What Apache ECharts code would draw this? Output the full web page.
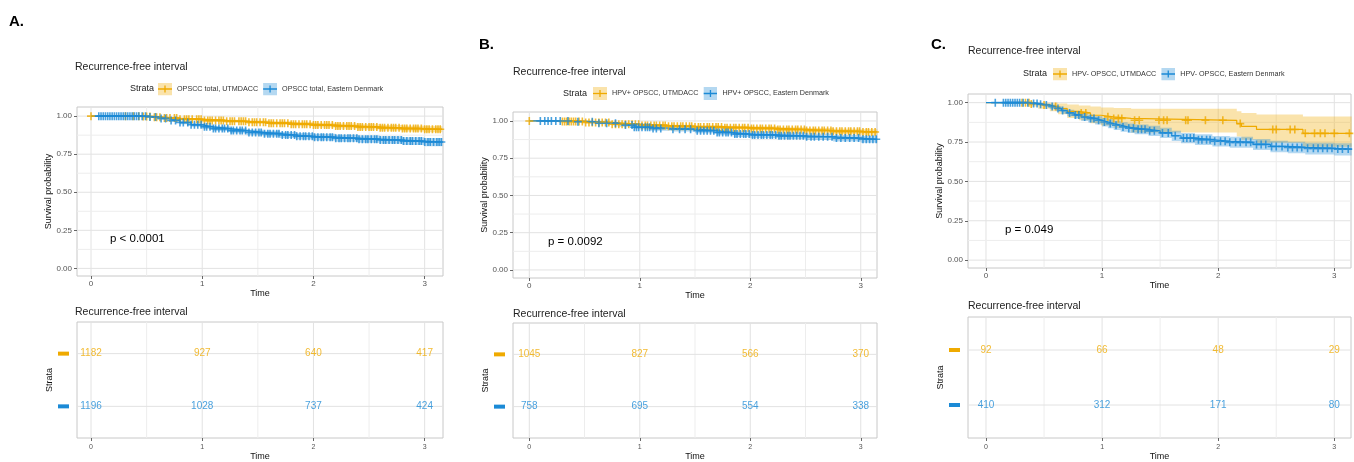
<!DOCTYPE html>
<html>
<head>
<meta charset="utf-8">
<script src="https://cdn.jsdelivr.net/npm/echarts@6/dist/echarts.min.js"></script>
<style>
  html, body { margin: 0; padding: 0; background: #fff; }
  #chart { width: 1354px; height: 462px; }
</style>
</head>
<body>
<div id="chart"></div>
<script>
var FONT = '"Liberation Sans", Arial, sans-serif';
var YEL = '#EFAA00', BLU = '#1B8AD6';
var YEL_FILL = 'rgba(239,170,0,0.33)', BLU_FILL = 'rgba(27,138,214,0.33)';

var xTicks = [0, 1, 2, 3];
var yTicks = [0, 0.25, 0.5, 0.75, 1];
var riskTimes = [0, 1, 2, 3];

// ---- A: OPSCC total
var aNames = ['OPSCC total, UTMDACC', 'OPSCC total, Eastern Denmark'];
var aYelTime = [0, 0.45, 0.55, 0.65, 0.8, 1.0, 1.2, 1.4, 1.6, 1.8, 2.0, 2.2, 2.4, 2.6, 2.8, 3.0, 3.16];
var aYelSurv = [1.0, 0.998, 0.993, 0.987, 0.980, 0.972, 0.966, 0.960, 0.954, 0.947, 0.941, 0.935, 0.929, 0.923, 0.918, 0.914, 0.912];
var aYelLo = [1.0, 0.995, 0.988, 0.980, 0.972, 0.962, 0.955, 0.948, 0.941, 0.933, 0.926, 0.919, 0.912, 0.905, 0.899, 0.894, 0.892];
var aYelHi = [1.0, 1.0, 0.998, 0.994, 0.988, 0.982, 0.977, 0.972, 0.967, 0.961, 0.956, 0.951, 0.946, 0.941, 0.937, 0.934, 0.932];
var aYelCens = [0, 0.31, 0.38, 0.43, 0.47, 0.5, 0.53, 0.57, 0.59, 0.62, 0.66, 0.68, 0.71, 0.75, 0.77, 0.8, 0.84, 0.86, 0.88,
  0.91, 0.95, 0.97, 0.99, 1.02, 1.05, 1.07, 1.09, 1.12, 1.15, 1.17, 1.19, 1.22, 1.25, 1.27, 1.29, 1.33, 1.35, 1.37, 1.39, 1.42,
  1.45, 1.47, 1.49, 1.52, 1.55, 1.57, 1.6, 1.62, 1.64, 1.67, 1.7, 1.72, 1.74, 1.77, 1.8, 1.82, 1.84, 1.87, 1.9, 1.92, 1.94,
  1.97, 2.0, 2.02, 2.04, 2.07, 2.1, 2.12, 2.14, 2.17, 2.2, 2.22, 2.24, 2.27, 2.3, 2.32, 2.34, 2.37, 2.4, 2.42, 2.44, 2.47, 2.5,
  2.52, 2.54, 2.57, 2.6, 2.62, 2.64, 2.67, 2.7, 2.72, 2.74, 2.77, 2.8, 2.82, 2.84, 2.87, 2.9, 2.92, 2.94, 2.97, 3.0, 3.02, 3.04,
  3.07, 3.1, 3.12, 3.14];
var aBluTime = [0, 0.5, 0.6, 0.7, 0.8, 0.9, 1.0, 1.1, 1.25, 1.4, 1.55, 1.7, 1.85, 2.0, 2.2, 2.4, 2.6, 2.8, 3.0, 3.16];
var aBluSurv = [1.0, 0.995, 0.985, 0.972, 0.958, 0.943, 0.930, 0.918, 0.905, 0.893, 0.885, 0.876, 0.868, 0.862, 0.855, 0.849, 0.843, 0.836, 0.830, 0.822];
var aBluLo = [1.0, 0.991, 0.978, 0.963, 0.947, 0.930, 0.916, 0.902, 0.888, 0.875, 0.866, 0.856, 0.847, 0.840, 0.832, 0.825, 0.818, 0.810, 0.803, 0.794];
var aBluHi = [1.0, 0.999, 0.992, 0.981, 0.969, 0.956, 0.944, 0.934, 0.922, 0.911, 0.904, 0.896, 0.889, 0.884, 0.878, 0.873, 0.868, 0.862, 0.857, 0.850];
var aBluCens = [0.07, 0.09, 0.11, 0.13, 0.15, 0.17, 0.19, 0.21, 0.23, 0.25, 0.27, 0.29, 0.31, 0.33, 0.35, 0.37, 0.39, 0.41,
  0.43, 0.46, 0.49, 0.53, 0.58, 0.63, 0.67, 0.72, 0.76, 0.8, 0.83, 0.87, 0.9, 0.93, 0.96, 0.99, 1.02, 1.04, 1.07, 1.1, 1.12,
  1.15, 1.18, 1.2, 1.23, 1.26, 1.28, 1.31, 1.34, 1.36, 1.39, 1.42, 1.45, 1.48, 1.51, 1.53, 1.56, 1.59, 1.61, 1.64, 1.67, 1.69,
  1.72, 1.75, 1.77, 1.8, 1.83, 1.85, 1.88, 1.91, 1.93, 1.96, 1.99, 2.01, 2.04, 2.07, 2.09, 2.12, 2.15, 2.17, 2.2, 2.23, 2.25,
  2.28, 2.31, 2.33, 2.36, 2.39, 2.41, 2.44, 2.47, 2.49, 2.52, 2.55, 2.57, 2.6, 2.63, 2.65, 2.68, 2.71, 2.73, 2.76, 2.79, 2.81,
  2.84, 2.87, 2.89, 2.92, 2.95, 2.97, 3.0, 3.03, 3.05, 3.08, 3.11, 3.13, 3.15];
var aRiskYel = [1182, 927, 640, 417];
var aRiskBlu = [1196, 1028, 737, 424];

// ---- B: HPV+ OPSCC
var bNames = ['HPV+ OPSCC, UTMDACC', 'HPV+ OPSCC, Eastern Denmark'];
var bYelTime = [0, 0.3, 0.5, 0.75, 1.0, 1.25, 1.5, 1.75, 2.0, 2.25, 2.5, 2.75, 3.0, 3.15];
var bYelSurv = [1.0, 0.997, 0.990, 0.978, 0.970, 0.964, 0.960, 0.955, 0.950, 0.943, 0.936, 0.930, 0.926, 0.924];
var bYelLo = [1.0, 0.994, 0.985, 0.970, 0.960, 0.953, 0.948, 0.942, 0.936, 0.928, 0.920, 0.913, 0.908, 0.905];
var bYelHi = [1.0, 1.0, 0.996, 0.986, 0.980, 0.975, 0.972, 0.968, 0.964, 0.958, 0.952, 0.947, 0.944, 0.943];
var bYelCens = [0, 0.3, 0.32, 0.34, 0.36, 0.38, 0.4, 0.42, 0.45, 0.48, 0.51, 0.54, 0.57, 0.6, 0.63, 0.66, 0.69, 0.72, 0.75,
  0.78, 0.81, 0.84, 0.87, 0.9, 0.93, 0.96, 0.99, 1.02, 1.05, 1.07, 1.1, 1.13, 1.15, 1.18, 1.21, 1.23, 1.26, 1.29, 1.31, 1.34,
  1.37, 1.39, 1.42, 1.45, 1.47, 1.5, 1.53, 1.55, 1.58, 1.61, 1.63, 1.66, 1.69, 1.71, 1.74, 1.77, 1.79, 1.82, 1.85, 1.87, 1.9,
  1.93, 1.95, 1.98, 2.01, 2.03, 2.06, 2.09, 2.11, 2.14, 2.17, 2.19, 2.22, 2.25, 2.27, 2.3, 2.33, 2.35, 2.38, 2.41, 2.43, 2.46,
  2.49, 2.51, 2.54, 2.57, 2.59, 2.62, 2.65, 2.67, 2.7, 2.73, 2.75, 2.78, 2.81, 2.83, 2.86, 2.89, 2.91, 2.94, 2.97, 2.99, 3.02,
  3.05, 3.07, 3.1, 3.13, 3.15];
var bBluTime = [0, 0.4, 0.6, 0.8, 0.95, 1.1, 1.3, 1.5, 1.7, 1.85, 2.0, 2.25, 2.5, 2.75, 3.0, 3.15];
var bBluSurv = [1.0, 0.995, 0.985, 0.972, 0.958, 0.950, 0.945, 0.935, 0.922, 0.912, 0.906, 0.900, 0.894, 0.885, 0.877, 0.873];
var bBluLo = [1.0, 0.99, 0.977, 0.961, 0.945, 0.935, 0.929, 0.918, 0.904, 0.893, 0.886, 0.879, 0.872, 0.862, 0.853, 0.848];
var bBluHi = [1.0, 1.0, 0.993, 0.983, 0.971, 0.965, 0.961, 0.952, 0.940, 0.931, 0.926, 0.921, 0.916, 0.908, 0.901, 0.898];
var bBluCens = [0.1, 0.14, 0.17, 0.2, 0.24, 0.28, 0.35, 0.44, 0.57, 0.63, 0.7, 0.78, 0.87, 0.93, 0.95, 0.97, 0.99, 1.02, 1.05,
  1.07, 1.09, 1.12, 1.15, 1.19, 1.3, 1.36, 1.41, 1.46, 1.52, 1.55, 1.58, 1.61, 1.64, 1.67, 1.7, 1.72, 1.75, 1.78, 1.8, 1.83,
  1.86, 1.88, 1.91, 1.94, 1.96, 1.99, 2.02, 2.04, 2.07, 2.1, 2.12, 2.15, 2.18, 2.2, 2.23, 2.26, 2.28, 2.31, 2.34, 2.36, 2.39,
  2.42, 2.45, 2.48, 2.51, 2.55, 2.58, 2.62, 2.66, 2.7, 2.74, 2.78, 2.82, 2.86, 2.9, 2.94, 2.98, 3.02, 3.05, 3.08, 3.11, 3.14];
var bRiskYel = [1045, 827, 566, 370];
var bRiskBlu = [758, 695, 554, 338];

// ---- C: HPV- OPSCC
var cNames = ['HPV- OPSCC, UTMDACC', 'HPV- OPSCC, Eastern Denmark'];
var cYelTime = [0, 0.38, 0.45, 0.55, 0.62, 0.7, 0.8, 0.9, 0.99, 1.1, 1.25, 2.16, 2.2, 2.33, 2.73, 3.15];
var cYelSurv = [1.0, 0.992, 0.985, 0.975, 0.962, 0.945, 0.935, 0.92, 0.91, 0.9, 0.888, 0.867, 0.85, 0.83, 0.805, 0.805];
var cYelLo = [1.0, 0.976, 0.962, 0.946, 0.926, 0.903, 0.889, 0.87, 0.855, 0.84, 0.81, 0.785, 0.765, 0.745, 0.72, 0.72];
var cYelHi = [1.0, 1.0, 1.0, 1.0, 0.995, 0.988, 0.982, 0.975, 0.97, 0.966, 0.962, 0.945, 0.935, 0.925, 0.912, 0.912];
var cYelCens = [0.31, 0.34, 0.37, 0.39, 0.5, 0.6, 0.82, 0.86, 1.05, 1.1, 1.14, 1.17, 1.28, 1.32, 1.49, 1.53, 1.56, 1.72, 1.74,
  1.89, 2.04, 2.19, 2.47, 2.5, 2.62, 2.66, 2.75, 2.83, 2.88, 2.92, 3.0, 3.13];
var cBluTime = [0, 0.4, 0.45, 0.5, 0.55, 0.6, 0.65, 0.7, 0.76, 0.82, 0.88, 0.94, 1.0, 1.05, 1.1, 1.16, 1.22, 1.28, 1.4, 1.5,
  1.6, 1.68, 1.8, 1.95, 2.1, 2.3, 2.45, 2.6, 2.75, 3.0, 3.15];
var cBluSurv = [1.0, 0.995, 0.99, 0.985, 0.975, 0.963, 0.95, 0.935, 0.922, 0.909, 0.9, 0.888, 0.877, 0.867, 0.857, 0.846, 0.838,
  0.831, 0.821, 0.808, 0.79, 0.775, 0.765, 0.755, 0.748, 0.735, 0.722, 0.716, 0.71, 0.705, 0.70];
var cBluLo = [1.0, 0.99, 0.982, 0.973, 0.96, 0.945, 0.93, 0.913, 0.898, 0.884, 0.874, 0.861, 0.849, 0.838, 0.827, 0.816, 0.808,
  0.8, 0.789, 0.776, 0.757, 0.742, 0.731, 0.721, 0.713, 0.699, 0.685, 0.678, 0.671, 0.665, 0.66];
var cBluHi = [1.0, 1.0, 0.998, 0.995, 0.988, 0.979, 0.968, 0.955, 0.944, 0.932, 0.924, 0.913, 0.903, 0.894, 0.885, 0.875, 0.868,
  0.862, 0.853, 0.84, 0.822, 0.808, 0.799, 0.789, 0.783, 0.77, 0.758, 0.752, 0.746, 0.742, 0.737];
var cBluCens = [0.08, 0.15, 0.17, 0.19, 0.21, 0.23, 0.25, 0.27, 0.29, 0.32, 0.36, 0.41, 0.44, 0.47, 0.52, 0.57, 0.62, 0.66, 0.72,
  0.77, 0.8, 0.85, 0.9, 0.93, 0.97, 1.02, 1.07, 1.12, 1.18, 1.23, 1.27, 1.31, 1.34, 1.37, 1.41, 1.45, 1.52, 1.57, 1.63, 1.7, 1.73,
  1.76, 1.79, 1.83, 1.86, 1.9, 1.93, 1.97, 2.02, 2.06, 2.1, 2.15, 2.19, 2.24, 2.28, 2.33, 2.37, 2.41, 2.46, 2.5, 2.55, 2.6, 2.64,
  2.68, 2.72, 2.77, 2.82, 2.86, 2.9, 2.94, 2.98, 3.03, 3.07, 3.12];
var cRiskYel = [92, 66, 48, 29];
var cRiskBlu = [410, 312, 171, 80];

var panels = [
  { letter: 'A.', pval: 'p < 0.0001', names: aNames,
    yel: { time: aYelTime, surv: aYelSurv, lo: aYelLo, hi: aYelHi, cens: aYelCens, risk: aRiskYel },
    blu: { time: aBluTime, surv: aBluSurv, lo: aBluLo, hi: aBluHi, cens: aBluCens, risk: aRiskBlu },
    lay: { km: { left: 77, top: 107, width: 366, height: 169 }, tb: { left: 77, top: 322, width: 366, height: 116 },
      x: [-0.126, 3.165], y: [-0.05, 1.06], titleY: 67, tbTitleY: 312, titleX: 75, letterX: 9, letterY: 22,
      strataX: 130, legendX: 158, legendY: 89, pvalX: 110, pvalY: 239, nameX: 50 } },
  { letter: 'B.', pval: 'p = 0.0092', names: bNames,
    yel: { time: bYelTime, surv: bYelSurv, lo: bYelLo, hi: bYelHi, cens: bYelCens, risk: bRiskYel },
    blu: { time: bBluTime, surv: bBluSurv, lo: bBluLo, hi: bBluHi, cens: bBluCens, risk: bRiskBlu },
    lay: { km: { left: 513, top: 112, width: 364, height: 166 }, tb: { left: 513, top: 323, width: 364, height: 115 },
      x: [-0.1475, 3.147], y: [-0.054, 1.06], titleY: 72.5, tbTitleY: 314, titleX: 513, letterX: 479, letterY: 45,
      strataX: 563, legendX: 593, legendY: 93.5, pvalX: 548, pvalY: 241.5, nameX: 489 } },
  { letter: 'C.', pval: 'p = 0.049', names: cNames,
    yel: { time: cYelTime, surv: cYelSurv, lo: cYelLo, hi: cYelHi, cens: cYelCens, risk: cRiskYel },
    blu: { time: cBluTime, surv: cBluSurv, lo: cBluLo, hi: cBluHi, cens: cBluCens, risk: cRiskBlu },
    lay: { km: { left: 968, top: 94, width: 383, height: 174 }, tb: { left: 968, top: 317, width: 383, height: 121 },
      x: [-0.155, 3.144], y: [-0.05, 1.055], titleY: 51.5, tbTitleY: 306.5, titleX: 968, letterX: 931, letterY: 45,
      strataX: 1023, legendX: 1053, legendY: 74, pvalX: 1005, pvalY: 230, nameX: 943 } }
];

var PLUS = 'path://M4,0H6V4H10V6H6V10H4V6H0V4H4Z';
var MAJOR = '#e2e2e2', MINOR = '#ededed', BORDER = '#c8c8c8';

function stepAt(times, vals, t) {
  var v = vals[0];
  for (var i = 0; i < times.length; i++) { if (times[i] <= t) v = vals[i]; }
  return v;
}
function mids(arr) {
  var out = [];
  for (var i = 0; i < arr.length - 1; i++) out.push((arr[i] + arr[i + 1]) / 2);
  return out;
}
function legendIcon(color, fill) {
  var svg = "<svg xmlns='http://www.w3.org/2000/svg' width='14' height='13'>" +
    "<rect width='14' height='13' fill='" + fill + "'/>" +
    "<line x1='0' y1='6.5' x2='14' y2='6.5' stroke='" + color + "' stroke-width='1.3'/>" +
    "<line x1='7' y1='3' x2='7' y2='10' stroke='" + color + "' stroke-width='1.3'/></svg>";
  return 'image://data:image/svg+xml;charset=utf-8,' + encodeURIComponent(svg);
}
function gridRender(params, api) {
  var cs = params.coordSys, v = api.value(0), kind = api.value(1);
  var style = { stroke: kind % 2 ? MINOR : MAJOR, lineWidth: 1 };
  if (kind < 2) {
    var x = api.coord([v, 1])[0];
    return { type: 'line', shape: { x1: x, y1: cs.y, x2: x, y2: cs.y + cs.height }, style: style };
  }
  var y = api.coord([0, v])[1];
  return { type: 'line', shape: { x1: cs.x, y1: y, x2: cs.x + cs.width, y2: y }, style: style };
}
function gridSeries(idx, xs, xsMinor, ys, ysMinor) {
  var data = [];
  xs.forEach(function (v) { data.push([v, 0]); });
  xsMinor.forEach(function (v) { data.push([v, 1]); });
  ys.forEach(function (v) { data.push([v, 2]); });
  ysMinor.forEach(function (v) { data.push([v, 3]); });
  return { type: 'custom', xAxisIndex: idx, yAxisIndex: idx, z: 1, silent: true, data: data, renderItem: gridRender };
}
function bandSeries(name, c, fill, idx) {
  return {
    type: 'custom', name: name, xAxisIndex: idx, yAxisIndex: idx, z: 2, silent: true,
    data: c.time.map(function (t, i) { return [t, c.lo[i], c.hi[i]]; }),
    renderItem: function (params, api) {
      if (params.dataIndex !== 0) return null;
      var n = c.time.length, pts = [], i, tn;
      for (i = 0; i < n; i++) {
        tn = i < n - 1 ? c.time[i + 1] : c.time[i];
        pts.push(api.coord([c.time[i], c.hi[i]]), api.coord([tn, c.hi[i]]));
      }
      for (i = n - 1; i >= 0; i--) {
        tn = i < n - 1 ? c.time[i + 1] : c.time[i];
        pts.push(api.coord([tn, c.lo[i]]), api.coord([c.time[i], c.lo[i]]));
      }
      return { type: 'polygon', shape: { points: pts }, style: { fill: fill } };
    }
  };
}
function curveSeries(name, c, color, idx) {
  return [
    { type: 'line', name: name, xAxisIndex: idx, yAxisIndex: idx, z: 3, silent: true, step: 'end',
      symbol: 'none', itemStyle: { color: color }, lineStyle: { color: color, width: 1.2 },
      data: c.time.map(function (t, i) { return [t, c.surv[i]]; }) },
    { type: 'scatter', name: name, xAxisIndex: idx, yAxisIndex: idx, z: 4, silent: true,
      symbol: PLUS, symbolSize: 8, itemStyle: { color: color },
      data: c.cens.map(function (t) { return [t, stepAt(c.time, c.surv, t)]; }) }
  ];
}
function riskSeries(name, counts, row, color, idx) {
  return { type: 'scatter', name: name, xAxisIndex: idx, yAxisIndex: idx, z: 4, silent: true,
    symbolSize: 1, itemStyle: { color: 'rgba(0,0,0,0)' },
    label: { show: true, position: 'inside', color: color, fontSize: 10, fontFamily: FONT,
      formatter: function (p) { return String(p.value[2]); } },
    data: riskTimes.map(function (t, i) { return [t, row, counts[i]]; }) };
}
function xAxisOpt(idx, range, fontSize, margin, gap) {
  return { type: 'value', gridIndex: idx, min: range[0], max: range[1],
    name: 'Time', nameLocation: 'middle', nameGap: gap,
    nameTextStyle: { fontSize: 9, color: '#111', fontFamily: FONT },
    axisLine: { show: false, onZero: false },
    axisTick: { show: true, length: 3, customValues: xTicks, lineStyle: { color: '#666' } },
    axisLabel: { customValues: xTicks, fontSize: fontSize, color: '#555', margin: margin, fontFamily: FONT },
    splitLine: { show: false } };
}
function text(x, y, str, size, weight, color) {
  return { type: 'text', x: x, y: y, z: 100, silent: true,
    style: { text: str, fontSize: size, fontWeight: weight, fontFamily: FONT, fill: color,
      verticalAlign: 'middle', textVerticalAlign: 'middle' } };
}

var option = {
  animation: false, backgroundColor: '#fff',
  textStyle: { fontFamily: FONT },
  grid: [], xAxis: [], yAxis: [], legend: [], series: [], graphic: []
};

panels.forEach(function (p, i) {
  var L = p.lay, km = 2 * i, tb = 2 * i + 1;
  [L.km, L.tb].forEach(function (g) {
    option.grid.push({ left: g.left, top: g.top, width: g.width, height: g.height, show: true,
      borderColor: BORDER, borderWidth: 1, backgroundColor: 'transparent' });
  });
  option.xAxis.push(xAxisOpt(km, L.x, 8, 4, 12));
  option.xAxis.push(xAxisOpt(tb, L.x, 7, 6, 13));
  option.yAxis.push({ type: 'value', gridIndex: km, min: L.y[0], max: L.y[1],
    name: 'Survival probability', nameLocation: 'middle', nameRotate: 90, nameGap: L.km.left - L.nameX - 6,
    nameTextStyle: { fontSize: 9, color: '#111', fontFamily: FONT },
    axisLine: { show: false, onZero: false },
    axisTick: { show: true, length: 3, customValues: yTicks, lineStyle: { color: '#666' } },
    axisLabel: { customValues: yTicks, fontSize: 8, color: '#555', margin: 5, fontFamily: FONT,
      formatter: function (v) { return v.toFixed(2); } },
    splitLine: { show: false } });
  option.yAxis.push({ type: 'value', gridIndex: tb, min: 0.4, max: 2.6,
    name: 'Strata', nameLocation: 'middle', nameRotate: 90, nameGap: L.tb.left - L.nameX - 6,
    nameTextStyle: { fontSize: 9, color: '#111', fontFamily: FONT },
    axisLine: { show: false, onZero: false }, axisTick: { show: false },
    axisLabel: { customValues: [1, 2], margin: 8,
      formatter: function (v) { return v === 2 ? '{y| }' : '{b| }'; },
      rich: { y: { width: 11, height: 4, backgroundColor: YEL, fontSize: 2 },
              b: { width: 11, height: 4, backgroundColor: BLU, fontSize: 2 } } },
    splitLine: { show: false } });

  option.legend.push({ left: L.legendX, top: L.legendY - 6.5, orient: 'horizontal', padding: 0,
    itemWidth: 14, itemHeight: 13, itemGap: 5, selectedMode: false,
    textStyle: { fontSize: 7.2, color: '#333', fontFamily: FONT },
    data: [{ name: p.names[0], icon: legendIcon(YEL, YEL_FILL) }, { name: p.names[1], icon: legendIcon(BLU, BLU_FILL) }] });

  option.series.push(gridSeries(km, xTicks, mids(xTicks), yTicks, mids(yTicks)));
  option.series.push(gridSeries(tb, xTicks, mids(xTicks), [1, 2], []));
  option.series.push(bandSeries(p.names[0], p.yel, YEL_FILL, km));
  option.series.push(bandSeries(p.names[1], p.blu, BLU_FILL, km));
  option.series = option.series.concat(curveSeries(p.names[0], p.yel, YEL, km));
  option.series = option.series.concat(curveSeries(p.names[1], p.blu, BLU, km));
  option.series.push(riskSeries(p.names[0], p.yel.risk, 2, YEL, tb));
  option.series.push(riskSeries(p.names[1], p.blu.risk, 1, BLU, tb));

  option.graphic.push(text(L.letterX, L.letterY, p.letter, 15, 'bold', '#000'));
  option.graphic.push(text(L.titleX, L.titleY, 'Recurrence-free interval', 10.5, 'normal', '#222'));
  option.graphic.push(text(L.titleX, L.tbTitleY, 'Recurrence-free interval', 10.5, 'normal', '#222'));
  option.graphic.push(text(L.strataX, L.legendY, 'Strata', 9, 'normal', '#222'));
  option.graphic.push(text(L.pvalX, L.pvalY, p.pval, 11.5, 'normal', '#000'));
});

var myChart = echarts.init(document.getElementById('chart'));
myChart.setOption(option);
</script>
</body>
</html>
